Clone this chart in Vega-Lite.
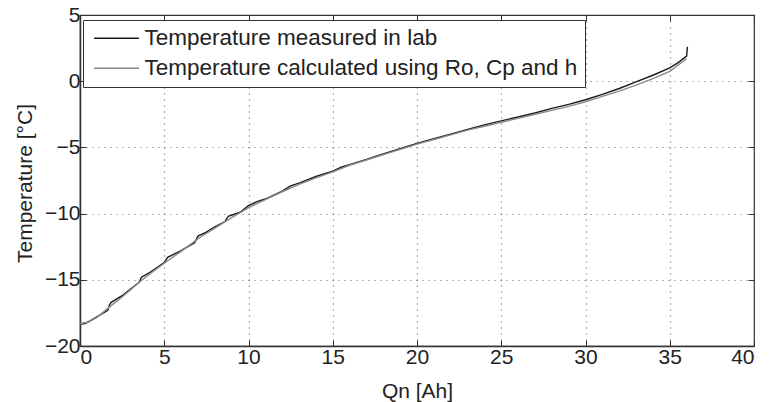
{
  "$schema": "https://vega.github.io/schema/vega-lite/v6.json",
  "autosize": {"type": "none"},
  "width": 674,
  "height": 331,
  "padding": {"left": 80, "top": 15, "right": 15, "bottom": 56},
  "background": "white",
  "config": {
    "font": "Liberation Sans",
    "view": {"stroke": "#333", "strokeWidth": 1.2},
    "axis": {"labelFont": "Liberation Sans", "titleFont": "Liberation Sans", "labelColor": "#222", "titleColor": "#222", "titleFontWeight": "normal"}
  },
  "data": {"values": [
    {"q": 0, "t": -18.35, "s": "Temperature measured in lab"},
    {"q": 0.3, "t": -18.3, "s": "Temperature measured in lab"},
    {"q": 0.6, "t": -18.1, "s": "Temperature measured in lab"},
    {"q": 1.0, "t": -17.8, "s": "Temperature measured in lab"},
    {"q": 1.4, "t": -17.5, "s": "Temperature measured in lab"},
    {"q": 1.65, "t": -17.3, "s": "Temperature measured in lab"},
    {"q": 1.75, "t": -16.9, "s": "Temperature measured in lab"},
    {"q": 1.85, "t": -16.7, "s": "Temperature measured in lab"},
    {"q": 2.5, "t": -16.2, "s": "Temperature measured in lab"},
    {"q": 3.0, "t": -15.7, "s": "Temperature measured in lab"},
    {"q": 3.5, "t": -15.2, "s": "Temperature measured in lab"},
    {"q": 3.65, "t": -14.8, "s": "Temperature measured in lab"},
    {"q": 4.2, "t": -14.4, "s": "Temperature measured in lab"},
    {"q": 5.0, "t": -13.7, "s": "Temperature measured in lab"},
    {"q": 5.2, "t": -13.3, "s": "Temperature measured in lab"},
    {"q": 6.0, "t": -12.8, "s": "Temperature measured in lab"},
    {"q": 6.8, "t": -12.2, "s": "Temperature measured in lab"},
    {"q": 7.0, "t": -11.7, "s": "Temperature measured in lab"},
    {"q": 7.5, "t": -11.4, "s": "Temperature measured in lab"},
    {"q": 8.0, "t": -11.0, "s": "Temperature measured in lab"},
    {"q": 8.6, "t": -10.6, "s": "Temperature measured in lab"},
    {"q": 8.8, "t": -10.2, "s": "Temperature measured in lab"},
    {"q": 9.5, "t": -9.9, "s": "Temperature measured in lab"},
    {"q": 10.0, "t": -9.4, "s": "Temperature measured in lab"},
    {"q": 10.5, "t": -9.1, "s": "Temperature measured in lab"},
    {"q": 11.0, "t": -8.9, "s": "Temperature measured in lab"},
    {"q": 12.0, "t": -8.3, "s": "Temperature measured in lab"},
    {"q": 12.5, "t": -7.9, "s": "Temperature measured in lab"},
    {"q": 13.0, "t": -7.7, "s": "Temperature measured in lab"},
    {"q": 14.0, "t": -7.2, "s": "Temperature measured in lab"},
    {"q": 15.0, "t": -6.8, "s": "Temperature measured in lab"},
    {"q": 15.5, "t": -6.5, "s": "Temperature measured in lab"},
    {"q": 16.0, "t": -6.3, "s": "Temperature measured in lab"},
    {"q": 17.0, "t": -5.9, "s": "Temperature measured in lab"},
    {"q": 18.0, "t": -5.5, "s": "Temperature measured in lab"},
    {"q": 19.0, "t": -5.1, "s": "Temperature measured in lab"},
    {"q": 20.0, "t": -4.7, "s": "Temperature measured in lab"},
    {"q": 21.0, "t": -4.35, "s": "Temperature measured in lab"},
    {"q": 22.0, "t": -4.0, "s": "Temperature measured in lab"},
    {"q": 23.0, "t": -3.65, "s": "Temperature measured in lab"},
    {"q": 24.0, "t": -3.3, "s": "Temperature measured in lab"},
    {"q": 25.0, "t": -3.0, "s": "Temperature measured in lab"},
    {"q": 26.0, "t": -2.7, "s": "Temperature measured in lab"},
    {"q": 27.0, "t": -2.4, "s": "Temperature measured in lab"},
    {"q": 28.0, "t": -2.05, "s": "Temperature measured in lab"},
    {"q": 29.0, "t": -1.75, "s": "Temperature measured in lab"},
    {"q": 30.0, "t": -1.4, "s": "Temperature measured in lab"},
    {"q": 31.0, "t": -1.0, "s": "Temperature measured in lab"},
    {"q": 32.0, "t": -0.55, "s": "Temperature measured in lab"},
    {"q": 33.0, "t": -0.05, "s": "Temperature measured in lab"},
    {"q": 34.0, "t": 0.45, "s": "Temperature measured in lab"},
    {"q": 35.0, "t": 1.0, "s": "Temperature measured in lab"},
    {"q": 35.5, "t": 1.4, "s": "Temperature measured in lab"},
    {"q": 36.0, "t": 1.9, "s": "Temperature measured in lab"},
    {"q": 36.05, "t": 2.6, "s": "Temperature measured in lab"},
    {"q": 0, "t": -18.3, "s": "Temperature calculated using Ro, Cp and h"},
    {"q": 0.5, "t": -18.2, "s": "Temperature calculated using Ro, Cp and h"},
    {"q": 1.0, "t": -17.85, "s": "Temperature calculated using Ro, Cp and h"},
    {"q": 1.7, "t": -17.1, "s": "Temperature calculated using Ro, Cp and h"},
    {"q": 2.5, "t": -16.3, "s": "Temperature calculated using Ro, Cp and h"},
    {"q": 3.5, "t": -15.2, "s": "Temperature calculated using Ro, Cp and h"},
    {"q": 4.2, "t": -14.5, "s": "Temperature calculated using Ro, Cp and h"},
    {"q": 5.0, "t": -13.75, "s": "Temperature calculated using Ro, Cp and h"},
    {"q": 6.0, "t": -12.85, "s": "Temperature calculated using Ro, Cp and h"},
    {"q": 7.0, "t": -11.9, "s": "Temperature calculated using Ro, Cp and h"},
    {"q": 8.0, "t": -11.1, "s": "Temperature calculated using Ro, Cp and h"},
    {"q": 9.0, "t": -10.3, "s": "Temperature calculated using Ro, Cp and h"},
    {"q": 10.0, "t": -9.55, "s": "Temperature calculated using Ro, Cp and h"},
    {"q": 11.0, "t": -8.95, "s": "Temperature calculated using Ro, Cp and h"},
    {"q": 12.0, "t": -8.35, "s": "Temperature calculated using Ro, Cp and h"},
    {"q": 13.0, "t": -7.8, "s": "Temperature calculated using Ro, Cp and h"},
    {"q": 14.0, "t": -7.3, "s": "Temperature calculated using Ro, Cp and h"},
    {"q": 15.0, "t": -6.85, "s": "Temperature calculated using Ro, Cp and h"},
    {"q": 16.0, "t": -6.35, "s": "Temperature calculated using Ro, Cp and h"},
    {"q": 17.0, "t": -5.95, "s": "Temperature calculated using Ro, Cp and h"},
    {"q": 18.0, "t": -5.55, "s": "Temperature calculated using Ro, Cp and h"},
    {"q": 19.0, "t": -5.15, "s": "Temperature calculated using Ro, Cp and h"},
    {"q": 20.0, "t": -4.75, "s": "Temperature calculated using Ro, Cp and h"},
    {"q": 21.0, "t": -4.4, "s": "Temperature calculated using Ro, Cp and h"},
    {"q": 22.0, "t": -4.05, "s": "Temperature calculated using Ro, Cp and h"},
    {"q": 23.0, "t": -3.7, "s": "Temperature calculated using Ro, Cp and h"},
    {"q": 24.0, "t": -3.4, "s": "Temperature calculated using Ro, Cp and h"},
    {"q": 25.0, "t": -3.1, "s": "Temperature calculated using Ro, Cp and h"},
    {"q": 26.0, "t": -2.8, "s": "Temperature calculated using Ro, Cp and h"},
    {"q": 27.0, "t": -2.5, "s": "Temperature calculated using Ro, Cp and h"},
    {"q": 28.0, "t": -2.2, "s": "Temperature calculated using Ro, Cp and h"},
    {"q": 29.0, "t": -1.9, "s": "Temperature calculated using Ro, Cp and h"},
    {"q": 30.0, "t": -1.55, "s": "Temperature calculated using Ro, Cp and h"},
    {"q": 31.0, "t": -1.15, "s": "Temperature calculated using Ro, Cp and h"},
    {"q": 32.0, "t": -0.75, "s": "Temperature calculated using Ro, Cp and h"},
    {"q": 33.0, "t": -0.3, "s": "Temperature calculated using Ro, Cp and h"},
    {"q": 34.0, "t": 0.2, "s": "Temperature calculated using Ro, Cp and h"},
    {"q": 35.0, "t": 0.75, "s": "Temperature calculated using Ro, Cp and h"},
    {"q": 36.0, "t": 1.7, "s": "Temperature calculated using Ro, Cp and h"}
  ]},
  "layer": [
    {
      "mark": {"type": "line", "strokeWidth": 1.4},
      "encoding": {
        "x": {"field": "q", "type": "quantitative",
          "scale": {"domain": [0, 40], "nice": false},
          "axis": {"title": "Qn [Ah]", "values": [0,5,10,15,20,25,30,35,40], "format": "d",
            "grid": true, "gridDash": [1, 5], "gridColor": "#444", "gridWidth": 1.2, "gridOpacity": 0.8,
            "tickSize": -6, "tickColor": "#333", "domainColor": "#333", "domainWidth": 1.5,
            "labelFontSize": 21, "labelPadding": 6, "titleFontSize": 21, "titleY": 51, "titleBaseline": "alphabetic"}},
        "y": {"field": "t", "type": "quantitative",
          "scale": {"domain": [-20, 5], "nice": false, "zero": false},
          "axis": {"title": "Temperature [°C]", "values": [-20,-15,-10,-5,0,5], "format": "d",
            "grid": true, "gridDash": [1, 5], "gridColor": "#444", "gridWidth": 1.2, "gridOpacity": 0.8,
            "tickSize": -6, "tickColor": "#333", "domainColor": "#333", "domainWidth": 1.5,
            "labelFontSize": 21, "labelPadding": 6, "titleFontSize": 21,
            "titleX": -55, "titleY": 168, "titleBaseline": "middle", "titleAngle": -90, "titleAlign": "center"}},
        "color": {"field": "s", "type": "nominal",
          "scale": {"domain": ["Temperature measured in lab", "Temperature calculated using Ro, Cp and h"], "range": ["#1a1a1a", "#8a8a8a"]},
          "legend": {"title": null, "orient": "none", "legendX": 3, "legendY": 5,
            "symbolType": "M-0.8,0H4.2", "symbolSize": 324, "symbolStrokeWidth": 1.5, "symbolFillColor": "transparent",
            "labelFontSize": 22.5, "labelFont": "Liberation Sans", "labelColor": "#222", "labelLimit": 700, "labelOffset": 32,
            "strokeColor": "#333", "fillColor": "white", "padding": 7, "rowPadding": 7}}
      }
    },
    {
      "mark": {"type": "line", "opacity": 0},
      "encoding": {
        "x": {"field": "q", "type": "quantitative", "scale": {"domain": [0, 40], "nice": false},
          "axis": {"orient": "top", "title": null, "labels": false, "grid": false, "domain": false, "values": [0,5,10,15,20,25,30,35,40], "tickSize": -6, "tickColor": "#333"}},
        "y": {"field": "t", "type": "quantitative", "scale": {"domain": [-20, 5], "nice": false, "zero": false},
          "axis": {"orient": "right", "title": null, "labels": false, "grid": false, "domain": false, "values": [-20,-15,-10,-5,0,5], "tickSize": -6, "tickColor": "#333"}},
        "detail": {"field": "s", "type": "nominal"}
      }
    }
  ],
  "resolve": {"axis": {"x": "independent", "y": "independent"}}
}
